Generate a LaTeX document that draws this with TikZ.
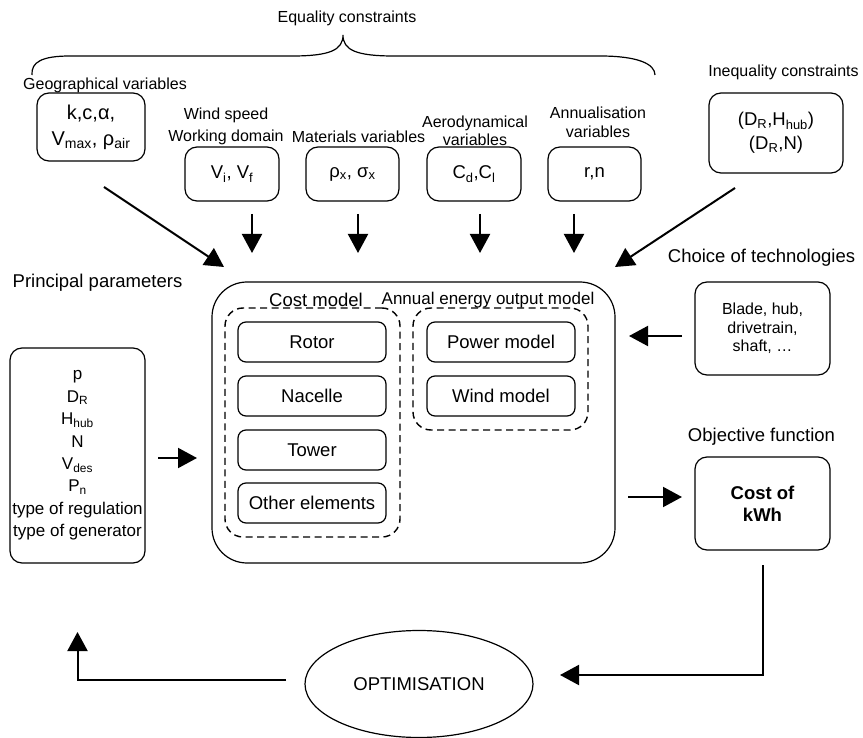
\documentclass[tikz,border=0pt]{standalone}
\usepackage{fontspec}
\setmainfont{Liberation Sans}
\usetikzlibrary{arrows.meta,shapes.geometric}
\newcommand{\fsS}{\fontsize{16}{19}\selectfont}
\newcommand{\fsM}{\fontsize{18.5}{22}\selectfont}
\newcommand{\fsP}{\fontsize{17}{22.4}\selectfont\lineskiplimit=-20pt}
\newcommand{\fsL}{\fontsize{20}{26}\selectfont\lineskiplimit=-20pt}
\newcommand{\sbx}[1]{\textsubscript{#1}}
\begin{document}
\begin{tikzpicture}[x=1pt,y=-1pt,
 every node/.style={inner sep=0pt,outer sep=0pt},
 box/.style={draw,line width=1.2pt,rounded corners=12pt,align=center,font=\fsM},
 ibox/.style={draw,line width=1.2pt,rounded corners=8pt,minimum width=148pt,minimum height=40pt,font=\fsM},
 dbox/.style={draw,line width=1.4pt,dash pattern=on 7pt off 4.5pt,rounded corners=18pt},
 lab/.style={align=center,font=\fsS},
 blab/.style={align=center,font=\fsM},
 arr/.style={line width=2pt,-{Triangle[length=19pt,width=20pt]}}]
\useasboundingbox (0,0) rectangle (863,738);

% brace and top labels
\node[lab] (eqlab) at (347,18) {Equality constraints};
\draw[line width=1.2pt] (32,75) .. controls (31,62) and (42,56) .. (70,56) -- (292,56) .. controls (330,56) and (343,50) .. (343,35) .. controls (343,50) and (356,56) .. (394,56) -- (600,56) .. controls (638,56) and (655,64) .. (655,75);

\node[lab] (geolab) at (105,85) {Geographical variables};
\node[box,font=\fsL,minimum width=108pt,minimum height=68pt] (geo) at (91,127) {k,c,α,\\V\sbx{max}, ρ\sbx{air}};

\node[lab,font=\fontsize{16}{22}\selectfont] (windlab) at (226,126) {Wind speed\\Working domain};
\node[lab] (matlab) at (358.5,137) {Materials variables};
\node[lab,font=\fontsize{16}{17.5}\selectfont] (aerolab) at (475,131) {Aerodynamical\\variables};
\node[lab] (annulab) at (598,122.5) {Annualisation\\variables};
\node[lab] (ineqlab) at (783.5,72) {Inequality constraints};

\node[box,minimum width=94pt,minimum height=54pt] (wind) at (232,174) {V\sbx{i}, V\sbx{f}};
\node[box,minimum width=93pt,minimum height=54pt] (mat) at (352.5,174) {ρ\sbx{x}, σ\sbx{x}};
\node[box,minimum width=94pt,minimum height=54pt] (aero) at (474,174) {C\sbx{d},C\sbx{l}};
\node[box,minimum width=93pt,minimum height=54pt] (annu) at (594.5,174) {r,n};
\node[box,font=\fontsize{18.5}{24}\selectfont,minimum width=134pt,minimum height=80pt] (ineq) at (776,133) {(D\sbx{R},H\sbx{hub})\\(D\sbx{R},N)};

% principal parameters
\node[blab] (princlab) at (97.5,283) {Principal parameters};
\node[box,font=\fsP,minimum width=135pt,minimum height=215pt] (princ) at (77.5,455.5) {p\\D\sbx{R}\\H\sbx{hub}\\N\\V\sbx{des}\\P\sbx{n}\\type of regulation\\type of generator};

% main model box
\node[draw,line width=1.2pt,rounded corners=35pt,minimum width=403pt,minimum height=281pt] (main) at (413.5,422.5) {};
\node[dbox,minimum width=175pt,minimum height=229pt] (costd) at (312.5,422.5) {};
\node[dbox,minimum width=175pt,minimum height=122pt] (aeod) at (500.5,369) {};
\node[blab] (costlab) at (316,300) {Cost model};
\node[blab,font=\fontsize{17}{20}\selectfont] (aeolab) at (488,300) {Annual energy output model};
\node[ibox] (rotor) at (312,342) {Rotor};
\node[ibox] (nacelle) at (312,396) {Nacelle};
\node[ibox] (tower) at (312,450) {Tower};
\node[ibox] (other) at (312,503) {Other elements};
\node[ibox] (power) at (501,342) {Power model};
\node[ibox] (windm) at (501,396) {Wind model};

% right side
\node[blab] (techlab) at (761.5,258) {Choice of technologies};
\node[box,font=\fontsize{16}{18.5}\selectfont,minimum width=135pt,minimum height=93pt] (tech) at (762.5,328.5) {Blade, hub,\\drivetrain,\\shaft, …};
\node[blab] (objlab) at (761.5,437) {Objective function};
\node[box,font=\fontsize{18.5}{22}\selectfont\bfseries,minimum width=135pt,minimum height=93pt] (cost) at (762.5,503.5) {Cost of\\kWh};

\node[draw,ellipse,line width=1.2pt,minimum width=228pt,minimum height=107pt,font=\fsM] (opt) at (419,684) {OPTIMISATION};

% arrows
\coordinate (ga) at (104,187);
\coordinate (gb) at (224,267);
\draw[arr] (ga) -- (gb);
\coordinate (ia) at (735,188);
\coordinate (ib) at (615,267);
\draw[arr] (ia) -- (ib);
\draw[arr,shorten >=29pt] ([xshift=20pt,yshift=-13pt]wind.south) -- ([xshift=20pt]wind.south |- main.north);
\draw[arr,shorten >=29pt] ([xshift=5.5pt,yshift=-13pt]mat.south) -- ([xshift=5.5pt]mat.south |- main.north);
\draw[arr,shorten >=29pt] ([xshift=6pt,yshift=-13pt]aero.south) -- ([xshift=6pt]aero.south |- main.north);
\draw[arr,shorten >=29pt] ([xshift=-20.5pt,yshift=-13pt]annu.south) -- ([xshift=-20.5pt]annu.south |- main.north);
\draw[arr,shorten <=13pt,shorten >=15pt] ([yshift=-2.5pt]princ.east) -- ([yshift=-2.5pt]princ.east -| main.west);
\draw[arr,shorten <=13pt,shorten >=14pt] ([yshift=-7.5pt]tech.west) -- ([yshift=-7.5pt]tech.west -| main.east);
\draw[arr,shorten <=13pt,shorten >=13pt] ([yshift=6.5pt]cost.west -| main.east) -- ([yshift=6.5pt]cost.west);
\draw[arr,shorten <=15pt,shorten >=27pt] (cost.south) |- ([yshift=9pt]opt.east);
\draw[arr,shorten <=19pt,shorten >=69pt] ([yshift=4pt]opt.west) -| (princ.south);
\end{tikzpicture}
\end{document}
